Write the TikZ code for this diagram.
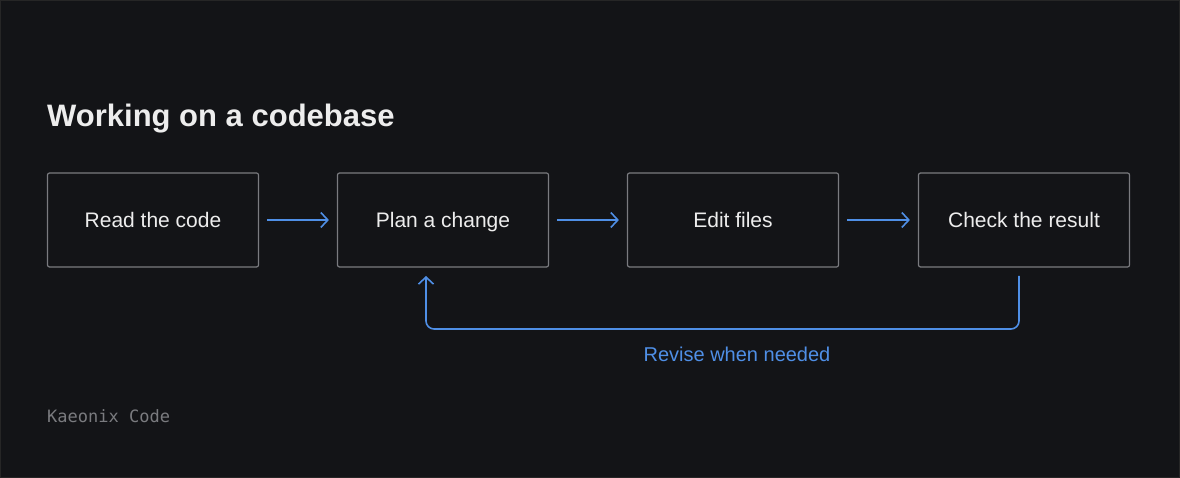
\documentclass[tikz,border=0pt]{standalone}
\usepackage{fontspec}
\setmainfont{Liberation Sans}
\setmonofont{DejaVu Sans Mono}
\usetikzlibrary{arrows.meta}
\definecolor{bg}{HTML}{131417}
\definecolor{edge}{HTML}{7A7B7F}
\definecolor{acc}{HTML}{4F8FE6}
\definecolor{txt}{HTML}{EDEDED}
\begin{document}
\begin{tikzpicture}[x=1pt,y=-1pt,
  box/.style={draw=edge,line width=1.2pt,rounded corners=2pt,minimum width=211pt,minimum height=94pt,text=txt,font=\fontsize{21}{24}\selectfont,inner sep=0pt,text height=17pt,text depth=2pt},
  flow/.style={draw=acc,line width=1.6pt,-{Straight Barb[length=7pt,width=15pt]}}]
\fill[bg] (0,0) rectangle (1180,478);
\draw[draw=black!70!gray,line width=1pt] (0.5,0.5) rectangle (1179.5,477.5);
\node[anchor=base west,text=txt,font=\bfseries\fontsize{31}{36}\selectfont,inner sep=0pt] (title) at (47,127) {Working on a codebase};
\node[box] (a) at (153,220) {Read the code};
\node[box] (b) at (443,220) {Plan a change};
\node[box] (c) at (733,220) {Edit files};
\node[box] (d) at (1024,220) {Check the result};
\draw[flow] ([xshift=8pt]a.east) -- ([xshift=-8pt]b.west);
\draw[flow] ([xshift=8pt]b.east) -- ([xshift=-8pt]c.west);
\draw[flow] ([xshift=8pt]c.east) -- ([xshift=-8pt]d.west);
\coordinate (s) at (1019,276);
\coordinate (e) at (426,276);
\draw[flow,rounded corners=8pt] (s) -- (1019,329) -- (426,329) -- (e);
\node[text=acc,font=\fontsize{20}{23}\selectfont,inner sep=0pt] (lbl) at (737,354) {Revise when needed};
\node[anchor=base west,text=edge,font=\ttfamily\fontsize{17}{20}\selectfont,inner sep=0pt] (foot) at (47,422) {Kaeonix Code};
\end{tikzpicture}
\end{document}
